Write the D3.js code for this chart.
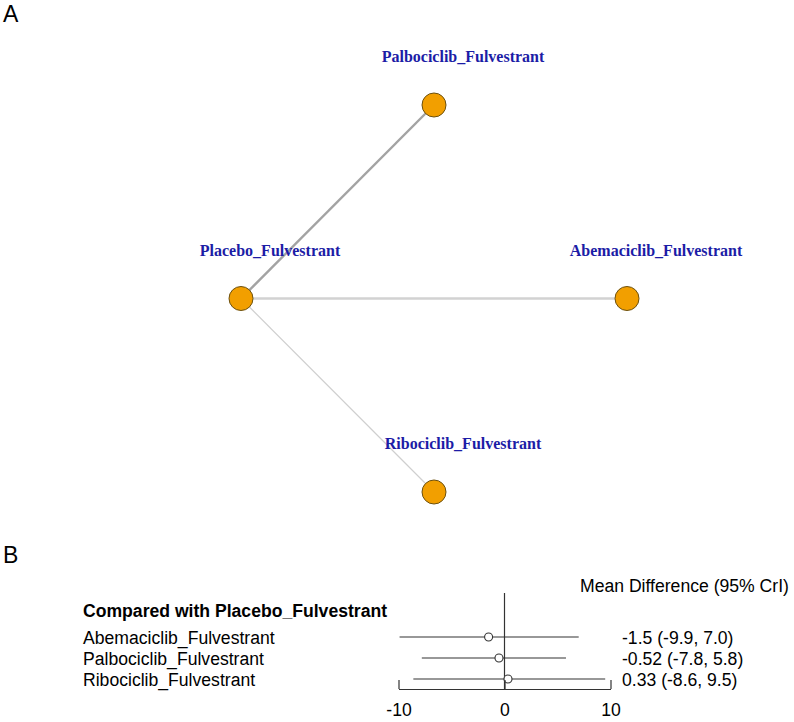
<!DOCTYPE html>
<html><head><meta charset="utf-8">
<script src="https://cdn.jsdelivr.net/npm/d3@7"></script>
<style>body{margin:0;background:#fff}svg{display:block}</style>
</head><body>
<svg id="c" width="794" height="722"></svg>
<script>
// ---- Panel A: network ----
const treatments = ["Placebo_Fulvestrant","Palbociclib_Fulvestrant","Abemaciclib_Fulvestrant","Ribociclib_Fulvestrant"];
const layoutX = [0, 1, 2, 1];
const layoutY = [0, 1, 0, -1];
const edgeFrom = ["Placebo_Fulvestrant","Placebo_Fulvestrant","Placebo_Fulvestrant"];
const edgeTo = ["Palbociclib_Fulvestrant","Abemaciclib_Fulvestrant","Ribociclib_Fulvestrant"];
const edgeStudies = [2, 2, 1];
const edgeColors = ["#a3a3a3","#d2d2d2","#cfcfcf"];

// ---- Panel B: forest ----
const comparisons = ["Abemaciclib_Fulvestrant","Palbociclib_Fulvestrant","Ribociclib_Fulvestrant"];
const meanDiff = [-1.5, -0.52, 0.33];
const lower = [-9.9, -7.8, -8.6];
const upper = [7.0, 5.8, 9.5];
const estLabels = ["-1.5 (-9.9, 7.0)","-0.52 (-7.8, 5.8)","0.33 (-8.6, 9.5)"];
const xTicks = [-10, 0, 10];

const svg = d3.select("#c");
svg.append("rect").attr("width",794).attr("height",722).attr("fill","#fff");

// panel letters
svg.append("text").attr("x",3).attr("y",22).text("A")
  .attr("font-family","Liberation Sans, Arial, sans-serif").attr("font-size",23);
svg.append("text").attr("x",3).attr("y",563).text("B")
  .attr("font-family","Liberation Sans, Arial, sans-serif").attr("font-size",23);

const nx = d3.scaleLinear().domain([0,2]).range([241,627]);
const ny = d3.scaleLinear().domain([-1,1]).range([492,105]);
const wScale = d3.scaleLinear().domain([1,2]).range([1.2,2.4]);
const pos = {};
treatments.forEach((t,i)=>{pos[t]=[nx(layoutX[i]), ny(layoutY[i])];});

const gA = svg.append("g");
gA.selectAll("line.edge").data(edgeFrom).join("line").attr("class","edge")
  .attr("x1",(d)=>pos[d][0]).attr("y1",(d)=>pos[d][1])
  .attr("x2",(d,i)=>pos[edgeTo[i]][0]).attr("y2",(d,i)=>pos[edgeTo[i]][1])
  .attr("stroke",(d,i)=>edgeColors[i]).attr("stroke-width",(d,i)=>wScale(edgeStudies[i]));

gA.selectAll("circle.node").data(treatments).join("circle").attr("class","node")
  .attr("cx",d=>pos[d][0]).attr("cy",d=>pos[d][1]).attr("r",12)
  .attr("fill","#f29f00").attr("stroke","#6b5010").attr("stroke-width",1);

gA.selectAll("text.lab").data(treatments).join("text").attr("class","lab")
  .attr("x",d=>pos[d][0]+29).attr("y",d=>pos[d][1]-43)
  .attr("text-anchor","middle")
  .attr("font-family","Liberation Serif, Times New Roman, serif")
  .attr("font-weight","bold").attr("font-size",16)
  .attr("fill","#1c1ca6").text(d=>d);

// ---- Panel B ----
const fx = d3.scaleLinear().domain([-10,10]).range([398.5,610.5]);
const rowY = d3.scalePoint().domain(comparisons).range([637,679]);
const font = "Liberation Sans, Arial, sans-serif";
const fs = 17.6;
const gB = svg.append("g");

gB.append("text").attr("x",580).attr("y",592).text("Mean Difference (95% CrI)")
  .attr("font-family",font).attr("font-size",fs);
gB.append("text").attr("x",83).attr("y",617).text("Compared with Placebo_Fulvestrant")
  .attr("font-family",font).attr("font-size",fs).attr("font-weight","bold");

gB.selectAll("text.rl").data(comparisons).join("text").attr("class","rl")
  .attr("x",83).attr("y",d=>rowY(d)+7).text(d=>d)
  .attr("font-family",font).attr("font-size",fs);
gB.selectAll("text.est").data(estLabels).join("text").attr("class","est")
  .attr("x",622).attr("y",(d,i)=>rowY(comparisons[i])+7).text(d=>d)
  .attr("font-family",font).attr("font-size",fs);

// zero line
gB.append("line").attr("x1",fx(0)).attr("x2",fx(0)).attr("y1",593).attr("y2",689)
  .attr("stroke","#333").attr("stroke-width",1.2);

gB.selectAll("line.ci").data(comparisons).join("line").attr("class","ci")
  .attr("x1",(d,i)=>fx(lower[i])).attr("x2",(d,i)=>fx(upper[i]))
  .attr("y1",d=>rowY(d)).attr("y2",d=>rowY(d))
  .attr("stroke","#333").attr("stroke-width",1.2);
gB.selectAll("circle.pt").data(comparisons).join("circle").attr("class","pt")
  .attr("cx",(d,i)=>fx(meanDiff[i])).attr("cy",d=>rowY(d)).attr("r",4)
  .attr("fill","#fff").attr("stroke","#333").attr("stroke-width",1.1);

const axis = d3.axisBottom(fx).tickValues(xTicks).tickFormat(d3.format("d"))
  .tickSizeInner(-9).tickSizeOuter(0).tickPadding(15);
const ax = gB.append("g").attr("transform","translate(0,689)").call(axis);
ax.select(".domain").attr("stroke","#333").attr("stroke-width",1.2);
ax.selectAll(".tick line").attr("stroke","#333").attr("stroke-width",1.2);
ax.selectAll(".tick text").attr("font-family",font).attr("font-size",fs).attr("fill","#000")
  .text(d=>d<0?"-"+Math.abs(d):d);
</script>
</body></html>
